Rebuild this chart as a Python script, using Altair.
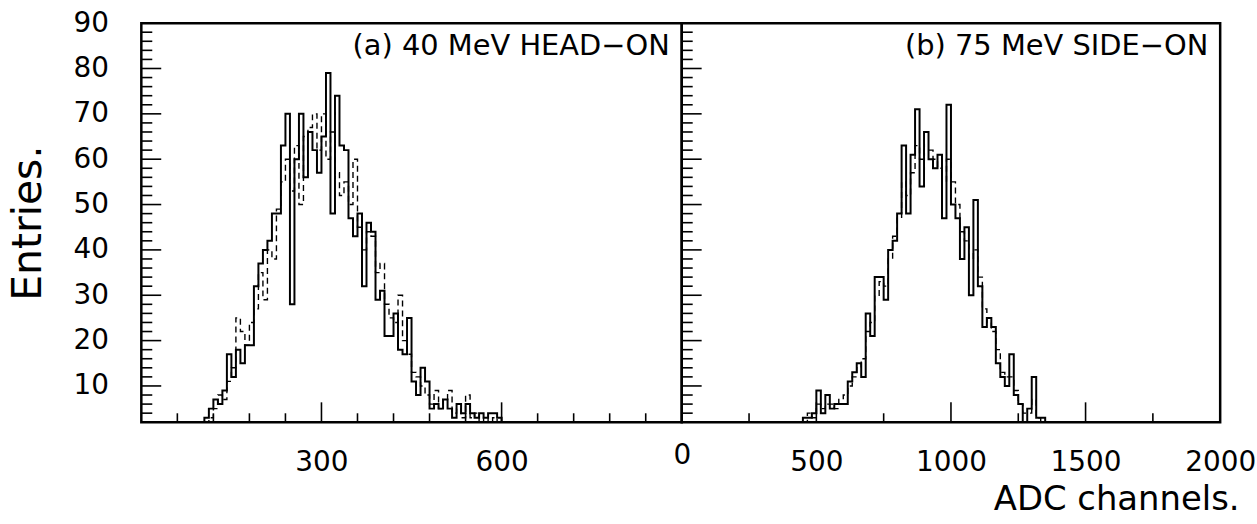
import altair as alt
import pandas as pd

FONT = "DejaVu Sans"

# ---------------- data ----------------
left_start = 105.0          # ADC channel of first bin, panel (a)
left_bin = 7.5              # bin width, panel (a)
left_solid = [3, 5, 7, 6, 9, 17, 12, 18, 15, 19, 19, 32, 37, 40, 42, 48, 48, 63, 70, 28,
              60, 70, 56, 66, 62, 57, 65, 79, 48, 74, 63, 62, 47, 43, 48, 32, 46, 44, 29, 31,
              21, 21, 26, 18, 17, 25, 11, 8, 14, 11, 5, 6, 5, 7, 5, 3, 6, 4, 6, 4,
              3, 4, 3, 4, 4, 3, 2, 0]
left_dashed = [2, 3, 5, 8, 7, 11, 14, 25, 22, 19, 24, 27, 35, 29, 40, 38, 49, 55, 60, 53,
               63, 50, 65, 67, 70, 62, 70, 60, 66, 57, 52, 55, 50, 60, 45, 40, 44, 43, 35, 37,
               28, 25, 24, 30, 20, 17, 13, 12, 10, 8, 6, 9, 5, 7, 9, 4, 5, 3, 8, 3,
               4, 2, 3, 2, 3, 2, 1, 0]

right_start = 450.0         # ADC channel of first bin, panel (b)
right_bin = 2000.0 / 120    # bin width, panel (b)
right_solid = [3, 3, 4, 9, 4, 8, 5, 6, 6, 6, 11, 13, 15, 12, 26, 21, 34, 34, 29, 40,
               42, 48, 63, 48, 61, 71, 54, 66, 60, 58, 61, 47, 72, 50, 47, 38, 45, 30, 51, 32,
               23, 25, 23, 15, 12, 10, 17, 8, 6, 2, 5, 12, 3, 3]
right_dashed = [2, 4, 3, 6, 5, 6, 6, 5, 7, 8, 10, 12, 14, 16, 22, 24, 30, 33, 32, 38,
                43, 47, 55, 52, 57, 63, 60, 62, 62, 60, 58, 55, 60, 55, 50, 44, 42, 38, 40, 34,
                27, 24, 22, 18, 13, 12, 12, 9, 6, 4, 4, 7, 3, 2]

left_domain = [0, 900]
right_domain = [0, 2000]
y_domain = [2, 90]
y_labels = [10, 20, 30, 40, 50, 60, 70, 80, 90]
y_minor = [4, 6, 8, 12, 14, 16, 18, 22, 24, 26, 28, 32, 34, 36, 38, 42, 44, 46, 48,
           52, 54, 56, 58, 62, 64, 66, 68, 72, 74, 76, 78, 82, 84, 86, 88]
left_x_labels = [300, 600]
left_x_major = [300, 600]
left_x_minor = [60, 120, 180, 240, 360, 420, 480, 540, 660, 720, 780, 840]
right_x_labels = [0, 500, 1000, 1500, 2000]
right_x_major = [500, 1000, 1500]
right_x_minor = [250, 750, 1250, 1750]
panel_a = "(a) 40 MeV HEAD\u2212ON"
panel_b = "(b) 75 MeV SIDE\u2212ON"
y_title = "Entries."
x_title = "ADC channels."

W_L, W_R, H = 543, 541, 401
LBL = 28


def hist_frame(start, width, values):
    rows = [{"x": start, "y": 0, "i": 0}]
    for j, v in enumerate(values):
        rows.append({"x": start + j * width, "y": v, "i": j + 1})
    rows.append({"x": start + len(values) * width, "y": 0, "i": len(values) + 1})
    return pd.DataFrame(rows)


def panel(start, binw, solid, dashed, xdomain, xlabels, xmaj, xmin, width, label, left):
    xs = alt.Scale(domain=xdomain, nice=False, zero=False)
    ys = alt.Scale(domain=y_domain, nice=False, zero=False)
    if left:
        yaxis = alt.Axis(values=y_labels, ticks=False, domain=False, grid=False, format="d",
                         labelFontSize=LBL, labelPadding=33, title=y_title,
                         titleFontSize=41, titlePadding=24, titleFontWeight="normal")
        xaxis = alt.Axis(values=xlabels, ticks=False, domain=False, grid=False, format="d",
                         labelFontSize=LBL, labelPadding=41, labelBaseline="middle",
                         labelFlush=False, labelOverlap=False, title=None)
    else:
        yaxis = None
        xaxis = alt.Axis(values=xlabels, ticks=False, domain=False, grid=False, format="d",
                         labelFontSize=LBL, labelPadding=41,
                         labelBaseline={"condition": {"test": "datum.value === 0", "value": "alphabetic"},
                                        "value": "middle"},
                         labelFlush=False, labelOverlap=False, title=x_title,
                         titleFontSize=34, titleFontWeight="normal", titleX=width + 19, titleY=78,
                         titleAlign="right", titleBaseline="middle", titleAnchor="end")

    X = alt.X("x:Q", scale=xs, axis=xaxis)
    Y = alt.Y("y:Q", scale=ys, axis=yaxis)

    dashed_layer = alt.Chart(hist_frame(start, binw, dashed)).mark_line(
        interpolate="step-after", clip=True, color="black", strokeWidth=1.4, strokeDash=[6, 4]
    ).encode(x=X, y=Y, order="i:Q")
    solid_layer = alt.Chart(hist_frame(start, binw, solid)).mark_line(
        interpolate="step-after", clip=True, color="black", strokeWidth=2
    ).encode(x=X, y=Y, order="i:Q")
    ymaj = alt.Chart(pd.DataFrame({"y": y_labels})).mark_rule(color="black", strokeWidth=1.6).encode(
        y=Y, x=alt.value(0), x2=alt.value(20))
    ymin = alt.Chart(pd.DataFrame({"y": y_minor})).mark_rule(color="black", strokeWidth=1.6).encode(
        y=Y, x=alt.value(0), x2=alt.value(11))
    xmajl = alt.Chart(pd.DataFrame({"x": xmaj})).mark_rule(color="black", strokeWidth=1.6).encode(
        x=X, y=alt.value(H), y2=alt.value(H - 20))
    xminl = alt.Chart(pd.DataFrame({"x": xmin})).mark_rule(color="black", strokeWidth=1.6).encode(
        x=X, y=alt.value(H), y2=alt.value(H - 9))
    txt = alt.Chart(pd.DataFrame({"label": [label]})).mark_text(
        align="right", baseline="middle", fontSize=29, font=FONT, color="black"
    ).encode(text="label:N", x=alt.value(width - 12), y=alt.value(23))

    return alt.layer(dashed_layer, solid_layer, ymaj, ymin, xmajl, xminl, txt).properties(
        width=width, height=H)


left = panel(left_start, left_bin, left_solid, left_dashed, left_domain, left_x_labels,
             left_x_major, left_x_minor, W_L, panel_a, True)
right = panel(right_start, right_bin, right_solid, right_dashed, right_domain, right_x_labels,
              right_x_major, right_x_minor, W_R, panel_b, False)

chart = alt.hconcat(left, right, spacing=0, bounds="flush").properties(
    padding={"left": 6, "top": 6, "right": 0, "bottom": 3},
    background="white",
).configure_view(
    stroke="black", strokeWidth=2.5
).configure_axis(
    labelFont=FONT, titleFont=FONT, labelColor="black", titleColor="black"
)

chart.save("out.html", embed_options={"renderer": "svg", "actions": False})
